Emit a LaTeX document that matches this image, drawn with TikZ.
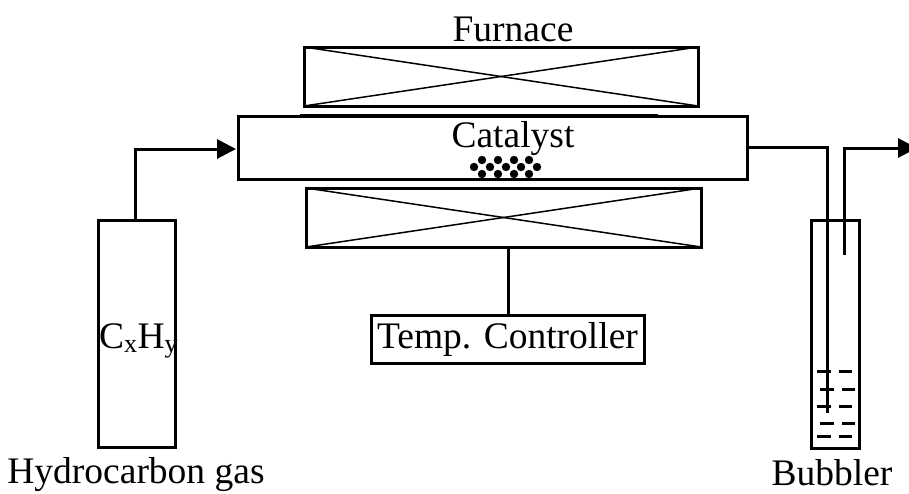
\documentclass[tikz,border=0pt]{standalone}
\usepackage{fontspec}
\setmainfont{Liberation Serif}
\usetikzlibrary{positioning,arrows.meta}
\tikzset{
  unit/.style={draw,line width=3pt,inner sep=0pt,outer sep=0pt,anchor=north west},
  label/.style={inner sep=0pt,outer sep=0pt},
  pipe/.style={line width=3pt},
  flow/.style={pipe,-{Triangle[length=19pt,width=19pt]}},
  cross/.style={line width=1.5pt}
}
\begin{document}
\begin{tikzpicture}[x=1pt, y=-1pt, font=\fontsize{37.5}{40}\selectfont]
  \useasboundingbox (0,0) rectangle (909,493);
  \node[unit,minimum width=394pt,minimum height=59pt] (furnacetop) at (304,47) {};
  \node[unit,minimum width=509pt,minimum height=63pt] (tube) at (238,116) {};
  \node[unit,minimum width=395pt,minimum height=59pt] (furnacebot) at (306,188) {};
  \node[unit,minimum width=273pt,minimum height=48pt] (ctrl) at (371,315) {};
  \node[unit,minimum width=77pt,minimum height=227pt] (cyl) at (98,220) {};
  \node[unit,minimum width=48pt,minimum height=228pt] (bub) at (811,220) {};
  \draw[cross] (furnacetop.north west) -- (furnacetop.south east);
  \draw[cross] (furnacetop.south west) -- (furnacetop.north east);
  \draw[cross] (furnacebot.north west) -- (furnacebot.south east);
  \draw[cross] (furnacebot.south west) -- (furnacebot.north east);
  \draw[cross] (300,114.5) -- (658,114.5);
  \node[label] (furnacelbl) at (513,29) {Furnace};
  \node[label] (catlbl) at (513,139) {Catalyst};
  \node[label] (ctrllbl) at (ctrl.center) {Temp. Controller};
  \node[label,anchor=west] (gaslbl) at (99,341) {C\textsubscript{x}H\textsubscript{y}};
  \node[label] (hclbl) at (136,475) {Hydrocarbon gas};
  \node[label] (bublbl) at (832,473) {Bubbler};
  % catalyst bed
  \foreach \x in {482,498,514,529} {
    \fill (\x,160) circle (4.2);
    \fill (\x,174) circle (4.2);
  }
  \foreach \x in {474,490,506,521,537}
    \fill (\x,167) circle (4.2);
  % liquid in bubbler
  \foreach \y/\s in {371/0,389/3,406/0,423/3,436/0} {
    \draw[pipe] (817+\s,\y) -- (831+\s,\y);
    \draw[pipe] (839+\s,\y) -- (852+\s,\y);
  }
  \coordinate (inlet) at (236,149);
  \coordinate (dipend) at (827,413);
  \coordinate (ventend) at (844,255);
  \coordinate (ventout) at (917,148);
  \draw[flow] (cyl.north west) ++(37,0) |- (inlet);
  \draw[pipe] (tube.east) -| (dipend);
  \draw[flow] (ventend) |- (ventout);
  \draw[line width=3pt] (ctrl.north -| 508,0) -- (508,0 |- furnacebot.south);
\end{tikzpicture}
\end{document}
